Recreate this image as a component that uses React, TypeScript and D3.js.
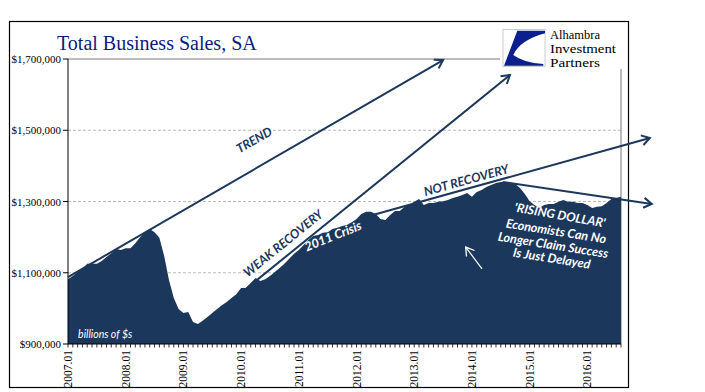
import React from 'react';
import * as d3 from 'd3';

// Total business sales, SA, monthly from 2007.01 (thousands of $ millions)
const sales = [
  1082, 1091, 1102, 1111, 1125, 1125, 1125, 1133, 1144, 1155, 1167, 1164,
  1169, 1169, 1183, 1200, 1214, 1223, 1214, 1198, 1147, 1080, 1029, 998,
  987, 990, 962, 956, 965, 976, 987, 998, 1009, 1018, 1029, 1040,
  1057, 1057, 1071, 1085, 1077, 1082, 1091, 1102, 1113, 1125, 1139, 1153,
  1164, 1178, 1192, 1203, 1206, 1212, 1214, 1223, 1226, 1231, 1234, 1242,
  1251, 1265, 1271, 1271, 1265, 1251, 1248, 1262, 1273, 1273, 1285, 1290,
  1299, 1307, 1290, 1296, 1296, 1299, 1301, 1304, 1310, 1313, 1318, 1324,
  1313, 1327, 1332, 1341, 1346, 1352, 1355, 1355, 1352, 1349, 1338, 1321,
  1301, 1290, 1282, 1290, 1293, 1293, 1299, 1304, 1299, 1299, 1296, 1296,
  1290, 1282, 1285, 1287, 1296, 1307, 1310, 1313,
];

const yearLabels = ['2007.01', '2008.01', '2009.01', '2010.01', '2011.01', '2012.01', '2013.01', '2014.01', '2015.01', '2016.01'];
const yTicks = [900, 1100, 1300, 1500, 1700];
const gridTicks = [1100, 1300, 1500];

// annotation arrows in [month index, value]
const arrows = [
  { from: [0, 1088], to: [78, 1697] }, // trend
  { from: [36.4, 1048], to: [91.9, 1655] }, // weak recovery
  { from: [61.7, 1256], to: [121, 1478] }, // not recovery
  { from: [90.4, 1355], to: [121.4, 1293] }, // rising dollar
];

const notes = [
  { text: 'TREND', at: [38.7, 1473], rot: -30, color: 'navy' },
  { text: 'WEAK RECOVERY', at: [44.7, 1183], rot: -39, color: 'navy' },
  { text: '2011 Crisis', at: [55.1, 1203], rot: -22, color: 'white' },
  { text: 'NOT RECOVERY', at: [82.8, 1360], rot: -15.5, color: 'navy' },
  { text: "'RISING DOLLAR'", at: [102.3, 1262], rot: 10, color: 'white' },
  { text: 'Economists Can No', at: [101.5, 1217], rot: 9, color: 'white' },
  { text: 'Longer Claim Success', at: [100.9, 1178], rot: 9, color: 'white' },
  { text: 'Is Just Delayed', at: [100.6, 1141], rot: 9, color: 'white' },
];

const logoLines = ['Alhambra', 'Investment', 'Partners'];
const logoWidths = [50, 66, 50];

const NAVY = '#1b375c';

export default function App() {
  const x = d3.scaleLinear().domain([0, sales.length - 1]).range([68, 621]);
  const y = d3.scaleLinear().domain([900, 1700]).range([344, 59]);

  const area = d3
    .area<number>()
    .x((_, i) => x(i))
    .y0(y(900))
    .y1((d) => y(d));

  const fmt = (v: number) => '$' + d3.format(',')(v * 1000);

  return (
    <svg width={705} height={392} style={{ position: 'absolute', left: 0, top: 0 }}>
      <defs>
        <marker id="arr" markerUnits="userSpaceOnUse" markerWidth={14} markerHeight={14} refX={10} refY={6} orient="auto">
          <path d="M2,1 L10,6 L2,11" fill="none" stroke={NAVY} strokeWidth={2} />
        </marker>
        <marker id="arrw" markerUnits="userSpaceOnUse" markerWidth={14} markerHeight={14} refX={10} refY={6} orient="auto">
          <path d="M2,1 L10,6 L2,11" fill="none" stroke="#fff" strokeWidth={1.3} />
        </marker>
      </defs>
      <rect x={9.5} y={21.5} width={619} height={366} fill="#fff" stroke="#000" strokeWidth={1.2} />

      {/* grid */}
      {gridTicks.map((t) => (
        <line key={t} x1={x(0)} x2={x(sales.length - 1)} y1={y(t)} y2={y(t)} stroke="#aaa" strokeDasharray="3,2" strokeWidth={0.8} />
      ))}
      <line x1={x(0)} x2={x(sales.length - 1)} y1={y(1700)} y2={y(1700)} stroke="#777" strokeWidth={1} />
      <line x1={x(sales.length - 1)} x2={x(sales.length - 1)} y1={y(1700)} y2={y(900)} stroke="#777" strokeWidth={1} />

      <path d={area(sales) || ''} fill={NAVY} />

      {/* axes */}
      <line x1={x(0)} x2={x(0)} y1={y(1700)} y2={y(900)} stroke="#000" />
      <line x1={x(0)} x2={x(sales.length - 1)} y1={y(900)} y2={y(900)} stroke="#000" />
      {yTicks.map((t) => (
        <g key={t}>
          <line x1={x(0) - 5} x2={x(0)} y1={y(t)} y2={y(t)} stroke="#000" />
          <text x={x(0) - 7} y={y(t)} textAnchor="end" dominantBaseline="central" fontFamily="Liberation Serif" fontSize={11} fill="#000">
            {fmt(t)}
          </text>
        </g>
      ))}
      {sales.map((_, i) => (
        <line key={i} x1={x(i)} x2={x(i)} y1={y(900)} y2={y(900) + 3.5} stroke="#000" strokeWidth={0.8} />
      ))}
      {yearLabels.map((l, k) => (
        <text key={l} transform={`translate(${x(k * 12)},350) rotate(-90)`} textAnchor="end" dominantBaseline="central" fontFamily="Liberation Serif" fontSize={11.5} fill="#000">
          {l}
        </text>
      ))}

      {/* annotations */}
      {arrows.map((a, k) => (
        <line key={k} x1={x(a.from[0])} y1={y(a.from[1])} x2={x(a.to[0])} y2={y(a.to[1])} stroke={NAVY} strokeWidth={2} markerEnd="url(#arr)" />
      ))}
      <line x1={x(86.1)} y1={y(1111)} x2={x(82.7)} y2={y(1172)} stroke="#fff" strokeWidth={1.2} markerEnd="url(#arrw)" />
      {notes.map((n) => (
        <text
          key={n.text}
          transform={`translate(${x(n.at[0])},${y(n.at[1])}) rotate(${n.rot})`}
          textAnchor="middle"
          dominantBaseline="central"
          fontFamily="Lato"
          fontWeight="bold"
          fontStyle="italic"
          fontSize={12.5}
          fill={n.color === 'navy' ? NAVY : '#fff'}
        >
          {n.text}
        </text>
      ))}
      <text x={x(2.1)} y={y(917)} fontFamily="Lato" fontStyle="italic" fontSize={10.5} fill="#fff">
        billions of $s
      </text>

      {/* title + logo */}
      <text x={57} y={50} fontFamily="Liberation Serif" fontSize={20} fill="#0d1b7c">
        Total Business Sales, SA
      </text>
      <rect x={500} y={23} width={127} height={46} fill="#fff" />
      <rect x={503} y={29.5} width={42} height={37} fill="#fff" stroke="#ccc" strokeWidth={1} />
      <path d="M517.3,30.7 L545,30.7 L545,33.3 Q520,40 513.3,55 Q523.3,62.7 543.3,64 L543.3,65.7 L504,65.7 Z" fill="#0b1f8f" />
      {logoLines.map((s, k) => (
        <text key={s} x={550} y={39 + k * 13.8} fontFamily="Liberation Serif" fontSize={12} textLength={logoWidths[k]} lengthAdjust="spacingAndGlyphs" fill="#000">
          {s}
        </text>
      ))}
    </svg>
  );
}
